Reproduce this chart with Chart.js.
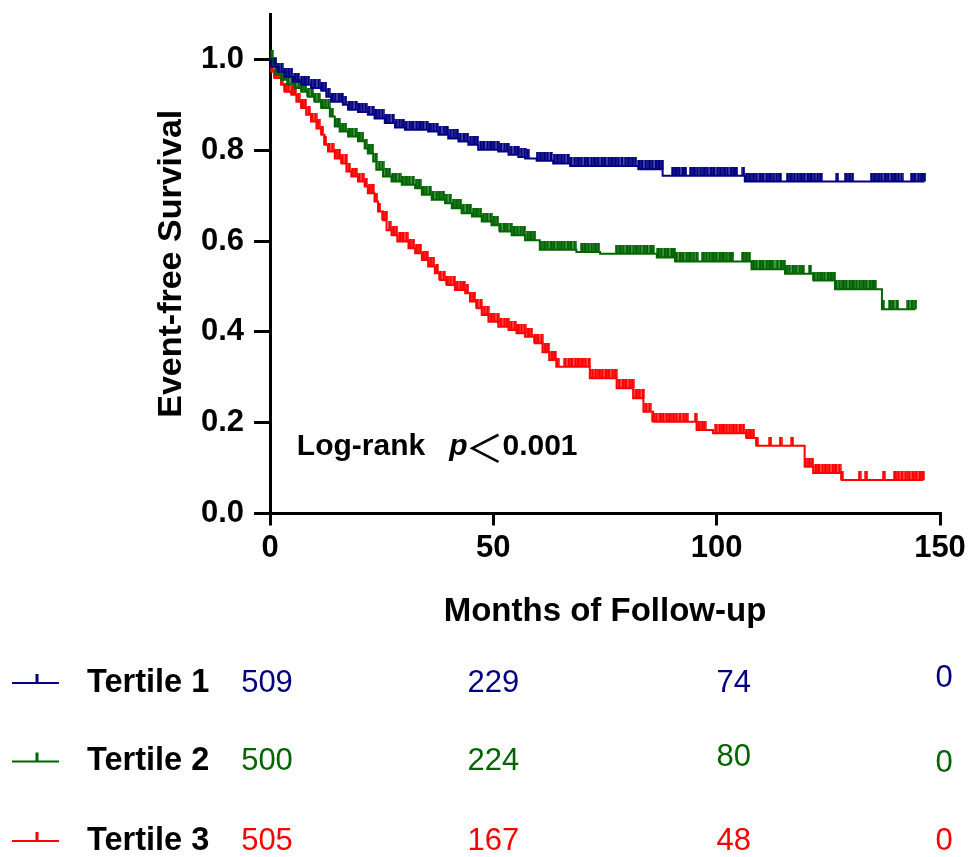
<!DOCTYPE html>
<html>
<head>
<meta charset="utf-8">
<title>Event-free survival by tertile</title>
<script src="https://cdn.jsdelivr.net/npm/chart.js@4.4.1/dist/chart.umd.min.js"></script>
<style>
    html, body { margin: 0; padding: 0; background: #fff; overflow: hidden; }
    #wrap { width: 970px; height: 857px; position: relative; }
</style>
</head>
<body>
<div id="wrap"><canvas id="km"></canvas></div>
<script>
// Ejes
const xTicks = [0, 50, 100, 150];
const yTicks = [0, 0.2, 0.4, 0.6, 0.8, 1.0];
const groupNames = ['Tertile 1', 'Tertile 2', 'Tertile 3'];

// Tertile 1: escalones (tiempo, supervivencia) y censuras
const t1Times = [0, 0.3, 1.8, 3.3, 5.1, 7.0, 9.2, 11.5, 12.6, 13.7, 16.3, 17.5, 19.7, 21.9, 23.4, 25.7, 28.0, 30.2, 35.4, 37.7, 39.9, 42.2, 44.4, 46.6, 51.1, 53.4, 55.6, 57.1, 59.7, 63.4, 67.2, 82.5, 87.9, 106.3, 146.5];
const t1Surv  = [1.0, 0.984, 0.973, 0.962, 0.951, 0.944, 0.937, 0.931, 0.918, 0.907, 0.900, 0.889, 0.884, 0.878, 0.870, 0.860, 0.850, 0.845, 0.841, 0.834, 0.826, 0.819, 0.812, 0.801, 0.797, 0.790, 0.785, 0.782, 0.777, 0.771, 0.765, 0.758, 0.744, 0.731, 0.731];
const t1Censor = [0.4, 1.1, 1.9, 2.6, 3.3, 4.1, 4.8, 5.6, 6.3, 7.1, 7.8, 8.6, 9.3, 10.1, 10.9, 11.6, 12.4, 13.1, 13.9, 14.6, 15.4, 16.1, 16.9, 17.7, 18.4, 19.2, 19.9, 20.7, 21.4, 22.2, 23.0, 23.7, 24.5, 25.2, 26.0, 26.7, 27.5, 28.3, 29.0, 29.8, 30.5, 31.3, 32.0, 32.8, 33.6, 34.3, 35.1, 35.8, 36.6, 37.3, 38.1, 38.9, 39.6, 40.4, 41.1, 41.9, 42.6, 43.4, 44.2, 44.9, 45.7, 46.4, 47.2, 47.9, 48.7, 49.5, 50.2, 51.0, 51.7, 52.5, 53.2, 54.0, 54.8, 55.5, 56.3, 57.0, 57.7,
    59.9, 60.6, 61.4, 62.1, 62.9, 63.7, 64.4, 65.2, 65.9, 66.7, 67.4, 68.2, 69.0, 69.7, 70.5, 71.2, 72.0, 72.7, 73.5, 74.3, 75.0, 75.8, 76.5, 77.3, 78.0, 78.8, 79.6, 80.3, 81.1, 81.8, 82.6, 83.3, 84.1, 84.9, 85.6, 86.4, 87.1, 87.8,
    90.2, 90.9, 91.6, 92.4, 93.0, 94.2, 94.9, 95.7, 96.4, 97.2, 97.9, 98.7, 99.4, 100.2, 100.9, 101.7, 102.4, 103.2, 103.9, 104.4, 106.0,
    106.7, 107.4, 108.2, 108.9, 109.7, 110.4, 111.2, 111.9, 112.7, 113.4, 114.2, 115.9, 116.6, 117.4, 118.1, 118.9, 119.6, 120.4, 121.1, 121.9, 122.6, 123.3,
    127.0, 128.9, 129.7, 130.4, 134.7, 135.4, 136.2, 136.9, 137.7, 138.4, 139.2, 139.9, 140.7, 141.4, 143.7, 144.4, 145.2, 145.9, 146.5];

// Tertile 2
const t2Times = [0, 0.5, 1.2, 2.5, 4.0, 5.5, 7.0, 8.5, 10.0, 11.5, 13.4, 14.5, 15.6, 17.5, 19.7, 21.2, 21.9, 23.1, 23.8, 25.3, 27.2, 29.5, 32.5, 34.0, 36.2, 39.2, 40.7, 42.9, 45.2, 47.4, 49.6, 51.5, 54.1, 57.1, 60.4, 68.6, 73.9, 86.6, 90.7, 107.8, 115.3, 121.7, 126.5, 137, 144.5];
const t2Surv  = [1.0, 0.985, 0.966, 0.955, 0.944, 0.937, 0.929, 0.918, 0.907, 0.893, 0.874, 0.852, 0.841, 0.830, 0.820, 0.804, 0.793, 0.775, 0.757, 0.742, 0.731, 0.724, 0.716, 0.702, 0.691, 0.683, 0.672, 0.661, 0.654, 0.643, 0.635, 0.621, 0.613, 0.602, 0.581, 0.576, 0.572, 0.564, 0.555, 0.538, 0.528, 0.513, 0.494, 0.450, 0.450];
const t2Censor = [0.4, 1.1, 1.9, 2.6, 3.4, 4.1, 4.9, 5.6, 6.4, 7.1, 7.9, 8.6, 9.4, 10.1, 10.9, 11.6, 12.4, 13.1, 13.9, 14.7, 15.4, 16.2, 16.9, 17.7, 18.4, 19.2, 19.9, 20.7, 21.4, 22.2, 22.9, 23.7, 24.5, 25.2, 26.0, 26.7, 27.5, 28.2, 29.0, 29.7, 30.5, 31.2, 32.0, 32.8, 33.5, 34.3, 35.0, 35.8, 36.5, 37.3, 38.0, 38.8, 39.5, 40.3, 41.1, 41.8, 42.6, 43.3, 44.1, 44.8, 45.6, 46.3, 47.1, 47.8, 48.6, 49.4, 50.1, 50.9, 51.6, 52.4, 53.1, 53.9, 54.6, 55.4, 56.1, 56.9, 57.7, 58.4, 59.2,
    60.6, 61.4, 62.1, 62.9, 63.6, 64.4, 65.2, 65.9, 66.7, 67.4, 68.2, 69.8, 70.5, 71.3, 72.0, 72.8, 73.5,
    77.6, 78.4, 79.1, 79.9, 80.6, 81.4, 82.1, 82.9, 83.7, 84.4, 85.2, 85.7, 86.9, 87.6, 88.4, 89.1, 89.9, 90.5,
    91.0, 91.8, 92.5, 93.3, 94.0, 94.8, 95.5, 96.9, 97.7, 98.4, 99.2, 99.9, 100.7, 101.4, 102.2, 102.9, 103.5,
    105.9, 106.6, 107.3, 108.2, 108.9, 109.7, 110.4, 111.2, 111.9, 112.5, 113.6, 114.4, 115.1,
    115.6, 116.3, 117.1, 117.8, 118.6, 119.3, 120.9, 121.9, 122.6, 123.4, 124.1, 124.9, 125.6, 126.3,
    126.8, 127.5, 128.3, 129.0, 129.8, 130.5, 131.3, 132.0, 132.8, 133.5, 134.3, 135.0, 135.4,
    137.2, 138.8, 139.5, 140.4, 142.9, 143.7, 144.5];

// Tertile 3
const t3Times = [0, 0.4, 1.0, 2.5, 3.3, 4.8, 5.9, 7.0, 8.1, 9.2, 10.4, 11.5, 12.2, 13.0, 14.5, 16.0, 17.1, 18.2, 19.7, 21.2, 21.9, 23.4, 24.2, 25.3, 26.1, 27.2, 28.5, 31.0, 32.5, 34.0, 35.4, 36.9, 38.1, 39.6, 41.4, 43.7, 44.8, 46.3, 47.4, 48.9, 51.1, 53.4, 55.2, 57.1, 59.3, 61.0, 62.5, 64.1, 71.6, 77.6, 81.3, 83.6, 85.8, 95.5, 99.2, 106.7, 108.9, 119.7, 121.6, 128, 146.3];
const t3Surv  = [1.0, 0.973, 0.959, 0.944, 0.929, 0.922, 0.907, 0.893, 0.878, 0.863, 0.848, 0.834, 0.812, 0.797, 0.782, 0.771, 0.753, 0.742, 0.731, 0.720, 0.705, 0.687, 0.665, 0.646, 0.624, 0.613, 0.599, 0.584, 0.573, 0.558, 0.544, 0.529, 0.514, 0.503, 0.492, 0.485, 0.467, 0.452, 0.437, 0.422, 0.411, 0.404, 0.397, 0.389, 0.375, 0.355, 0.338, 0.323, 0.298, 0.276, 0.254, 0.224, 0.202, 0.184, 0.177, 0.166, 0.149, 0.103, 0.089, 0.074, 0.074];
const t3Censor = [0.4, 1.1, 1.9, 2.6, 3.4, 4.1, 4.9, 5.6, 6.4, 7.2, 7.9, 8.7, 9.4, 10.2, 10.9, 11.7, 12.4, 13.2, 14.0, 14.7, 15.5, 16.2, 17.0, 17.7, 18.5, 19.2, 20.0, 20.8, 21.5, 22.3, 23.0, 23.8, 24.5, 25.3, 26.0, 26.8, 27.6, 28.3, 29.1, 29.8, 30.6, 31.3, 32.1, 32.8, 33.6, 34.4, 35.1, 35.9, 36.6, 37.4, 38.1, 38.9, 39.6, 40.4, 41.2, 41.9, 42.7, 43.4, 44.2, 44.9, 45.7, 46.4, 47.2, 48.0, 48.7, 49.5, 50.2, 51.0, 51.7, 52.5, 53.2, 54.0, 54.8, 55.5, 56.3, 57.0, 57.8, 58.5, 59.3, 60.0, 60.8, 61.6, 62.3, 63.1, 63.8, 64.4,
    66.1, 66.9, 67.6, 68.4, 69.1, 69.9, 70.6, 71.4, 72.2, 72.9, 73.7, 74.4, 75.2, 75.9, 76.7, 77.4, 78.2, 79.0, 79.7, 80.5, 81.2, 82.0, 82.7, 83.5, 84.2, 85.0, 85.8, 86.5, 87.3, 88.0, 88.8, 89.5, 90.3, 91.0, 91.8, 92.6, 93.3,
    95.3, 96.0, 96.8, 97.3, 99.9, 100.7, 101.4, 102.2, 102.9, 103.7, 104.4, 105.2, 106.0, 106.7, 107.5, 108.2, 109.0,
    112.0, 114.3, 116.9, 119.9, 120.7, 121.4, 122.2, 122.9, 123.7, 124.4, 125.2, 126.0, 126.7, 127.5, 128.0,
    132.0, 133.5, 137.4, 139.9, 140.7, 141.5, 142.3, 143.1, 143.9, 144.7, 145.5, 146.2];

// Numero en riesgo
const riskTimes = [0, 50, 100, 150];
const t1Risk = [509, 229, 74, 0];
const t2Risk = [500, 224, 80, 0];
const t3Risk = [505, 167, 48, 0];

const FONT = '"Liberation Sans", Arial, sans-serif';
const colors = ['#000080', '#006400', '#ff0000'];

function stepPoints(times, surv) {
    return times.map((t, i) => ({ x: t, y: surv[i] }));
}

// valor de la curva en el tiempo t (para colocar la marca de censura)
function survAt(times, surv, t) {
    let s = surv[0];
    for (let i = 0; i < times.length; i++) {
        if (times[i] <= t) s = surv[i];
        else break;
    }
    return s;
}

// marca de censura: trazo vertical hacia arriba desde el punto
function censorMark(color) {
    const c = document.createElement('canvas');
    c.width = 4;
    c.height = 18;
    const g = c.getContext('2d');
    g.fillStyle = color;
    g.fillRect(0.3, 0, 3.4, 9);
    return c;
}

const groups = [
    { times: t1Times, surv: t1Surv, censor: t1Censor, risk: t1Risk },
    { times: t2Times, surv: t2Surv, censor: t2Censor, risk: t2Risk },
    { times: t3Times, surv: t3Surv, censor: t3Censor, risk: t3Risk }
];

const datasets = [];
groups.forEach((g, i) => {
    datasets.push({
        label: groupNames[i],
        data: stepPoints(g.times, g.surv),
        stepped: 'before',
        borderColor: colors[i],
        borderWidth: 2,
        pointRadius: 0,
        fill: false
    });
});
groups.forEach((g, i) => {
    datasets.push({
        label: groupNames[i] + ' censored',
        data: g.censor.map(t => ({ x: t, y: survAt(g.times, g.surv, t) })),
        showLine: false,
        pointStyle: censorMark(colors[i]),
        pointRadius: 4,
        borderWidth: 0
    });
});

const riskTable = {
    id: 'riskTable',
    afterDraw(chart) {
        const ctx = chart.ctx;
        const xs = chart.scales.x;
        const ys = chart.scales.y;
        ctx.save();
        ctx.textBaseline = 'middle';
        ctx.textAlign = 'left';
        ctx.fillStyle = '#000';

        // Log-rank
        let px = xs.getPixelForValue(6);
        const py = ys.getPixelForValue(0.146);
        ctx.font = 'bold 30px ' + FONT;
        ctx.fillText('Log-rank', px, py);
        px += ctx.measureText('Log-rank').width + 24;
        ctx.font = 'italic bold 30px ' + FONT;
        ctx.fillText('p', px, py);
        px += ctx.measureText('p').width;
        ctx.font = '38px "Noto Sans CJK SC"';
        ctx.textAlign = 'center';
        ctx.fillText('＜', px + 17, py);
        ctx.textAlign = 'left';
        ctx.font = 'bold 30px ' + FONT;
        ctx.fillText('0.001', px + 35, py);

        // Tabla de numero en riesgo
        const rowY = [683, 761.5, 841];
        const colShift = [-3, 0, 17, 4];
        const cellShift = [[0, 0, 0, -5], [0, 0, -4, 2], [0, 0, 0, 0]];
        groups.forEach((g, i) => {
            const yy = rowY[i];
            ctx.strokeStyle = colors[i];
            ctx.lineWidth = 2;
            ctx.beginPath();
            ctx.moveTo(12, yy);
            ctx.lineTo(59, yy);
            ctx.stroke();
            ctx.lineWidth = 3;
            ctx.beginPath();
            ctx.moveTo(37, yy);
            ctx.lineTo(37, yy - 9);
            ctx.stroke();

            ctx.fillStyle = '#000';
            ctx.textAlign = 'left';
            ctx.font = 'bold 32.5px ' + FONT;
            ctx.fillText(groupNames[i], 87, yy);

            ctx.fillStyle = colors[i];
            ctx.textAlign = 'center';
            ctx.font = '31px ' + FONT;
            g.risk.forEach((n, j) => {
                ctx.fillText(String(n), xs.getPixelForValue(riskTimes[j]) + colShift[j], yy + cellShift[i][j]);
            });
        });
        ctx.restore();
    }
};

const axisFont = { family: FONT, size: 31, weight: 'bold' };

new Chart(document.getElementById('km'), {
    type: 'line',
    data: { datasets: datasets },
    plugins: [riskTable],
    options: {
        responsive: true,
        maintainAspectRatio: false,
        animation: false,
        events: [],
        layout: { padding: { left: 0, top: 14, right: 30, bottom: 223.5 } },
        plugins: {
            legend: { display: false },
            tooltip: { enabled: false }
        },
        scales: {
            x: {
                type: 'linear',
                min: 0,
                max: 150,
                afterBuildTicks: s => { s.ticks = xTicks.map(v => ({ value: v })); },
                afterFit: s => { s.height = 120; s.paddingLeft = 0; s.paddingRight = 0; },
                ticks: { font: axisFont, color: '#000', padding: 4, maxRotation: 0 },
                grid: { drawOnChartArea: false, drawTicks: true, tickLength: 12, lineWidth: 3, color: '#000' },
                border: { display: true, width: 3, color: '#000' },
                title: { display: true, text: 'Months of Follow-up', font: { family: FONT, size: 33, weight: 'bold' }, color: '#000', padding: { top: 0, bottom: 2 } }
            },
            y: {
                type: 'linear',
                min: 0,
                max: 1.1,
                afterBuildTicks: s => { s.ticks = yTicks.map(v => ({ value: v })); },
                afterFit: s => { s.width = 270; s.paddingTop = 0; s.paddingBottom = 0; },
                ticks: { font: axisFont, color: '#000', padding: 10, callback: v => Number(v).toFixed(1) },
                grid: { drawOnChartArea: false, drawTicks: true, tickLength: 16, lineWidth: 3, color: '#000' },
                border: { display: true, width: 3, color: '#000' },
                title: { display: true, text: 'Event-free Survival', font: { family: FONT, size: 34, weight: 'bold' }, color: '#000', padding: { top: 151, bottom: 0 } }
            }
        }
    }
});
</script>
</body>
</html>
